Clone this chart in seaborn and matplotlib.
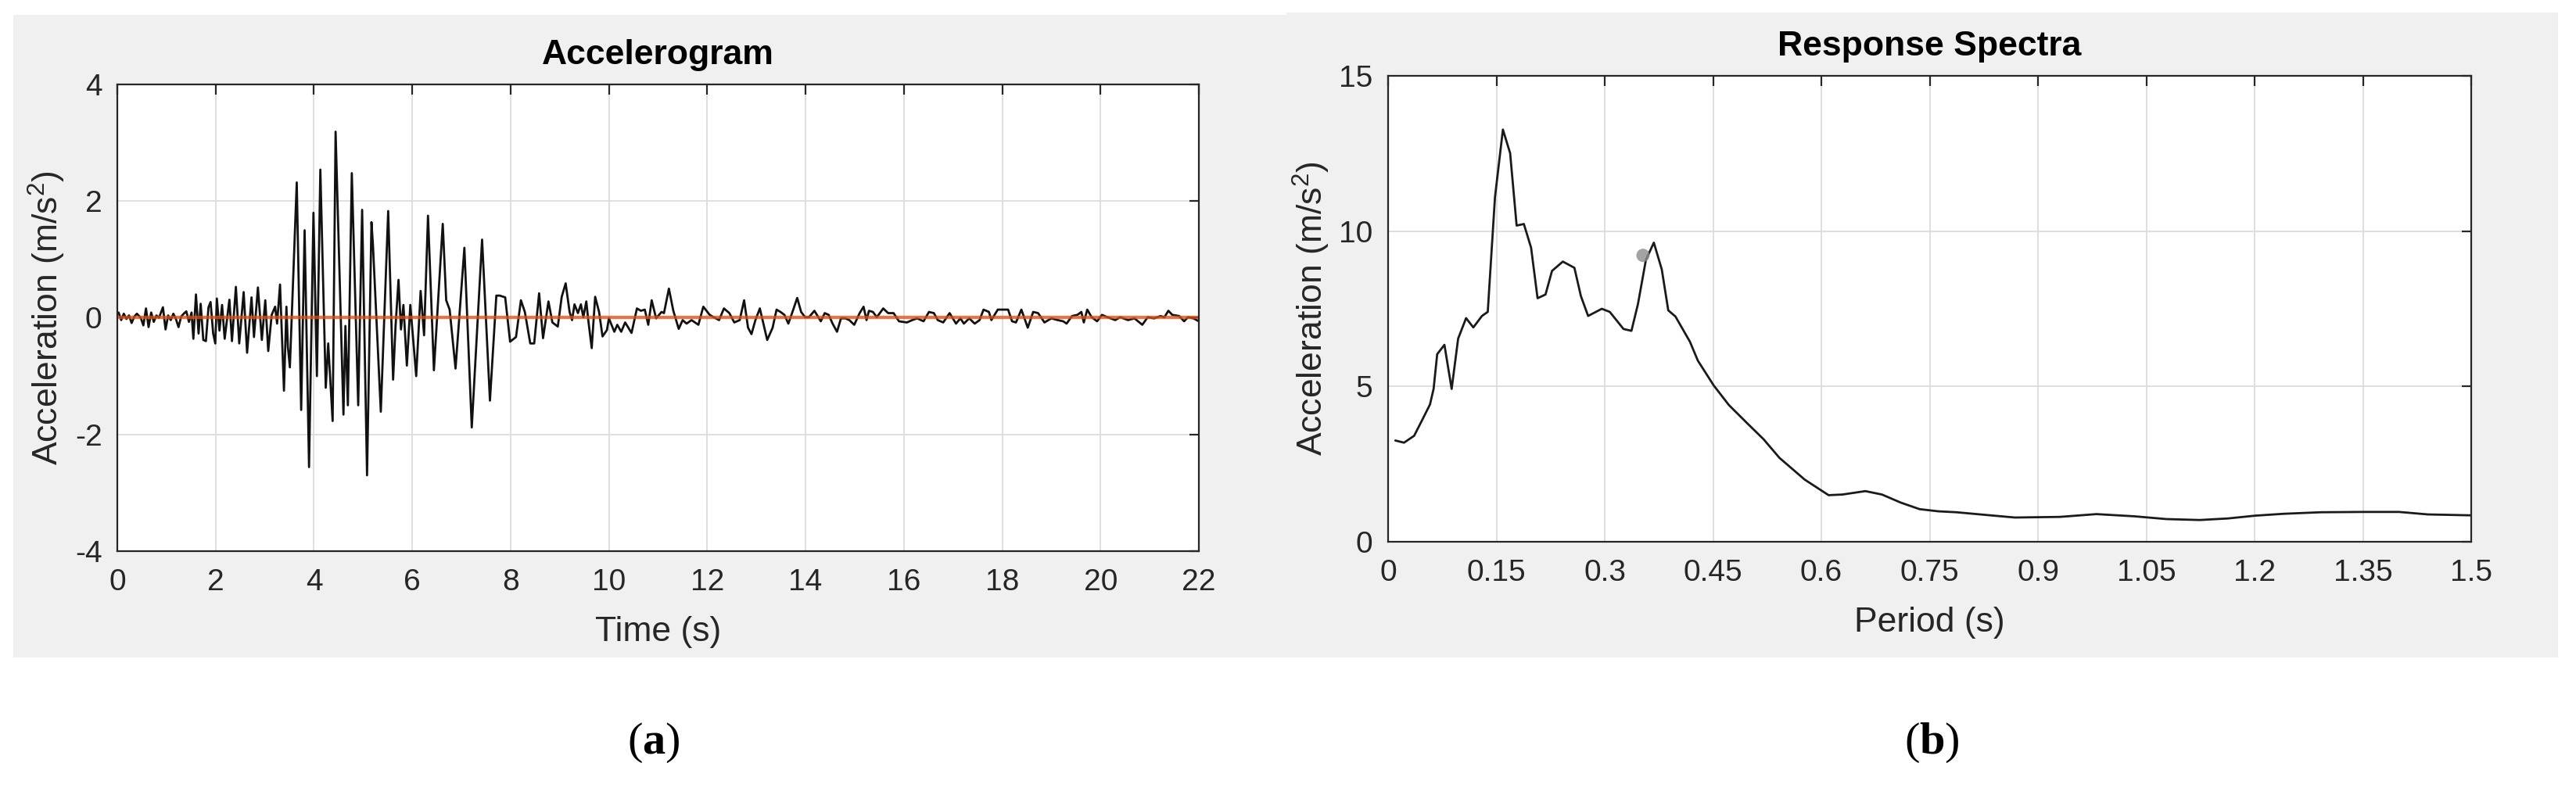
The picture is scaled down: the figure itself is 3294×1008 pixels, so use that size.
import matplotlib
matplotlib.use('Agg')
import matplotlib.pyplot as plt
import seaborn as sns
from matplotlib.patches import Rectangle

# accelerogram (turning points)
time_s = [0.026, 0.079, 0.132, 0.185, 0.238, 0.291, 0.345, 0.398, 0.477, 0.530,
          0.583, 0.636, 0.689, 0.742, 0.795, 0.848, 0.928, 0.981, 1.034, 1.087,
          1.14, 1.192, 1.245, 1.298, 1.351, 1.404, 1.457, 1.51, 1.547, 1.6,
          1.653, 1.696, 1.749, 1.802, 1.855, 1.897, 1.95, 1.993, 2.025, 2.078,
          2.131, 2.184, 2.28, 2.332, 2.412, 2.48, 2.57, 2.64, 2.73, 2.78,
          2.86, 2.94, 3.01, 3.07, 3.14, 3.21, 3.25, 3.31, 3.39, 3.44,
          3.47, 3.51, 3.65, 3.74, 3.81, 3.90, 3.99, 4.06, 4.13, 4.24,
          4.29, 4.38, 4.44, 4.60, 4.64, 4.69, 4.77, 4.90, 4.98, 5.08,
          5.17, 5.20, 5.36, 5.51, 5.61, 5.66, 5.72, 5.77, 5.82, 5.89,
          5.96, 6.08, 6.17, 6.24, 6.32, 6.44, 6.62, 6.69, 6.76, 6.88,
          7.06, 7.21, 7.42, 7.58, 7.71, 7.78, 7.89, 7.99, 8.11, 8.21,
          8.29, 8.40, 8.48, 8.58, 8.66, 8.77, 8.85, 8.96, 9.04, 9.12,
          9.20, 9.25, 9.30, 9.37, 9.43, 9.48, 9.54, 9.58, 9.65, 9.72,
          9.80, 9.87, 9.96, 10.0, 10.11, 10.17, 10.25, 10.33, 10.46, 10.57,
          10.65, 10.73, 10.80, 10.87, 10.96, 11.02, 11.07, 11.12, 11.22, 11.31,
          11.42, 11.50, 11.58, 11.68, 11.82, 11.92, 12.05, 12.13, 12.24, 12.34,
          12.45, 12.55, 12.66, 12.75, 12.83, 12.90, 12.98, 13.07, 13.22, 13.33,
          13.41, 13.49, 13.57, 13.65, 13.75, 13.83, 13.91, 13.99, 14.07, 14.18,
          14.31, 14.39, 14.47, 14.55, 14.64, 14.72, 14.81, 14.89, 14.99, 15.10,
          15.18, 15.24, 15.29, 15.37, 15.45, 15.58, 15.68, 15.79, 15.90, 16.06,
          16.17, 16.27, 16.40, 16.51, 16.61, 16.69, 16.80, 16.93, 17.06, 17.15,
          17.22, 17.33, 17.44, 17.54, 17.62, 17.73, 17.78, 17.91, 18.12, 18.20,
          18.28, 18.39, 18.52, 18.63, 18.73, 18.86, 19.00, 19.13, 19.24, 19.31,
          19.42, 19.53, 19.61, 19.66, 19.73, 19.82, 19.93, 20.03, 20.14, 20.30,
          20.40, 20.56, 20.69, 20.85, 20.96, 21.09, 21.22, 21.30, 21.38, 21.46,
          21.60, 21.70, 21.78, 21.89, 22.0]
accel = [0.09, -0.04, 0.07, -0.02, 0.04, -0.09, 0.02, 0.07, 0.0, -0.13,
         0.16, -0.16, 0.09, -0.07, 0.04, 0.0, 0.18, -0.2, 0.04, -0.04,
         0.07, -0.02, -0.16, 0.02, 0.07, 0.11, -0.07, 0.09, -0.36, 0.40,
         -0.27, 0.24, -0.38, -0.40, 0.18, 0.27, -0.27, -0.44, 0.33, -0.22,
         0.22, -0.36, 0.31, -0.40, 0.53, -0.44, 0.44, -0.60, 0.35, -0.33,
         0.52, -0.38, 0.30, -0.57, 0.05, 0.19, -0.10, 0.57, -1.25, 0.19,
         -0.50, -0.85, 2.32, -1.58, 1.50, -2.56, 1.80, -1.00, 2.54, -1.20,
         -0.44, -1.77, 3.19, -1.66, -0.14, -1.50, 2.48, -1.50, 1.85, -2.70,
         1.64, 1.25, -1.61, 1.83, -1.06, -0.14, 0.65, -0.20, 0.22, -0.82,
         0.22, -1.00, 0.46, -0.30, 1.75, -0.90, 1.61, 0.30, 0.14, -0.87,
         1.20, -1.88, 1.34, -1.42, 0.38, 0.38, 0.35, -0.41, -0.33, 0.30,
         0.10, -0.44, -0.44, 0.42, -0.35, 0.28, -0.08, -0.15, 0.36, 0.59,
         0.10, -0.04, 0.23, 0.08, 0.23, 0.01, 0.28, -0.04, -0.52, 0.36,
         0.10, -0.32, -0.21, -0.01, -0.24, -0.12, -0.24, -0.08, -0.26, 0.16,
         0.12, 0.14, -0.12, 0.30, -0.01, 0.05, 0.10, 0.08, 0.50, 0.12,
         -0.19, -0.04, -0.10, -0.04, -0.12, 0.19, 0.05, 0.01, -0.04, 0.16,
         0.08, -0.08, -0.04, 0.30, -0.17, -0.28, -0.04, 0.16, -0.38, -0.17,
         0.14, 0.10, 0.05, -0.10, 0.14, 0.34, 0.10, 0.01, 0.01, 0.12,
         -0.06, 0.08, 0.05, -0.10, -0.24, -0.01, -0.01, -0.04, -0.12, 0.08,
         0.19, -0.04, 0.12, 0.10, 0.01, 0.16, 0.08, 0.08, -0.06, -0.08,
         -0.04, -0.01, -0.06, 0.10, 0.08, -0.04, -0.08, 0.08, -0.10, -0.01,
         -0.10, -0.01, -0.10, -0.04, 0.14, 0.10, -0.04, 0.14, 0.14, -0.06,
         -0.08, 0.14, -0.17, 0.10, 0.08, -0.08, -0.01, -0.04, -0.06, -0.10,
         0.03, 0.05, 0.10, -0.08, 0.14, 0.01, -0.06, 0.05, 0.01, -0.04,
         0.01, -0.04, -0.01, -0.12, 0.01, -0.01, 0.03, 0.01, 0.12, 0.05,
         0.03, -0.06, 0.01, -0.01, -0.06]

# zero baseline (orange)
base_t = [0, 22]
base_a = [0, 0]

# response spectrum
period_s = [0.01, 0.022, 0.036, 0.047, 0.058, 0.063, 0.068, 0.078, 0.088, 0.097,
            0.108, 0.118, 0.13, 0.138, 0.148, 0.159, 0.169, 0.178, 0.188, 0.198,
            0.207, 0.218, 0.227, 0.242, 0.258, 0.267, 0.277, 0.296, 0.307, 0.326,
            0.337, 0.346, 0.357, 0.368, 0.379, 0.388, 0.398, 0.418, 0.429, 0.451,
            0.472, 0.498, 0.52, 0.542, 0.552, 0.577, 0.61, 0.629, 0.661, 0.684,
            0.71, 0.736, 0.762, 0.787, 0.82, 0.868, 0.93, 0.981, 1.033, 1.078,
            1.124, 1.163, 1.201, 1.24, 1.292, 1.35, 1.40, 1.44, 1.5]
spec_acc = [3.26, 3.19, 3.41, 3.91, 4.42, 4.92, 6.04, 6.34, 4.92, 6.54,
            7.2, 6.9, 7.27, 7.4, 11.09, 13.27, 12.51, 10.18, 10.23, 9.47,
            7.84, 7.96, 8.72, 9.02, 8.82, 7.91, 7.27, 7.50, 7.4, 6.85,
            6.79, 7.65, 9.07, 9.63, 8.77, 7.45, 7.25, 6.44, 5.83, 5.03,
            4.4, 3.8, 3.3, 2.7, 2.5, 2.0, 1.5, 1.52, 1.63, 1.52,
            1.26, 1.05, 0.98, 0.95, 0.88, 0.78, 0.8, 0.89, 0.82, 0.73,
            0.70, 0.75, 0.84, 0.9, 0.95, 0.96, 0.96, 0.88, 0.85]
marker_t = [0.353]
marker_a = [9.22]

acc_xticks = list(range(0, 23, 2))
acc_yticks = [-4, -2, 0, 2, 4]
spec_xticks = [0, 0.15, 0.3, 0.45, 0.6, 0.75, 0.9, 1.05, 1.2, 1.35, 1.5]
spec_xlabels = ['0', '0.15', '0.3', '0.45', '0.6', '0.75', '0.9', '1.05', '1.2', '1.35', '1.5']
spec_yticks = [0, 5, 10, 15]

sns.set_theme(style='white')
plt.rcParams['font.family'] = ['Liberation Sans', 'DejaVu Sans']
plt.rcParams['axes.unicode_minus'] = False
plt.rcParams['mathtext.fontset'] = 'custom'
plt.rcParams['mathtext.rm'] = 'Liberation Sans'
plt.rcParams['mathtext.it'] = 'Liberation Sans:italic'
plt.rcParams['mathtext.bf'] = 'Liberation Serif:bold'

TXT = '#262626'
GRAY = '#f0f0f0'


def style_axes(ax):
   ax.set_facecolor('white')
   for s in ax.spines.values():
      s.set_color(TXT)
      s.set_linewidth(1.6)
   ax.grid(True, color='#dcdcdc', linewidth=1.3)
   ax.set_axisbelow(True)
   ax.tick_params(axis='both', direction='in', top=True, right=True, length=9,
                  width=1.6, color=TXT, labelcolor=TXT, labelsize=28)
   ax.tick_params(axis='x', pad=16)
   ax.tick_params(axis='y', pad=14)
   ax.xaxis.label.set_va('center')
   ax.yaxis.label.set_va('center')


fig = plt.figure(figsize=(32.94, 10.08), dpi=100)
fig.add_artist(Rectangle((0.00516, 0.16567), 0.49423, 0.81548, transform=fig.transFigure,
                         facecolor=GRAY, edgecolor='none', zorder=0))
fig.add_artist(Rectangle((0.49939, 0.16567), 0.49363, 0.81845, transform=fig.transFigure,
                         facecolor=GRAY, edgecolor='none', zorder=0))

# (a) accelerogram
ax1 = fig.add_axes([0.04554, 0.30060, 0.41985, 0.59226])
sns.lineplot(x=time_s, y=accel, ax=ax1, color='#111111', linewidth=2.0,
             sort=False, estimator=None)
sns.lineplot(x=base_t, y=base_a, ax=ax1, color='#D95319', alpha=0.75, linewidth=3.2)
ax1.set_xlim(0, 22)
ax1.set_ylim(-4, 4)
ax1.set_xticks(acc_xticks)
ax1.set_yticks(acc_yticks)
ax1.set_xlabel('Time (s)', fontsize=32, color=TXT)
ax1.set_ylabel('Acceleration (m/s$^2$)', fontsize=32, color=TXT)
style_axes(ax1)
ax1.xaxis.set_label_coords(0.5, -0.174)
ax1.yaxis.set_label_coords(-0.0651, 0.5)

# (b) response spectrum
ax2 = fig.add_axes([0.53886, 0.31250, 0.42046, 0.59127])
sns.lineplot(x=period_s, y=spec_acc, ax=ax2, color='#1a1a1a', linewidth=2.0,
             sort=False, estimator=None)
sns.scatterplot(x=marker_t, y=marker_a, ax=ax2, color='#8c8c8c', alpha=0.8, s=150,
                edgecolor='none', zorder=3)
ax2.set_xlim(0, 1.5)
ax2.set_ylim(0, 15)
ax2.set_xticks(spec_xticks)
ax2.set_xticklabels(spec_xlabels)
ax2.set_yticks(spec_yticks)
ax2.set_xlabel('Period (s)', fontsize=32, color=TXT)
ax2.set_ylabel('Acceleration (m/s$^2$)', fontsize=32, color=TXT)
style_axes(ax2)
ax2.xaxis.set_label_coords(0.5, -0.173)
ax2.yaxis.set_label_coords(-0.0708, 0.5)

fig.text(0.2553, 0.9296, 'Accelerogram', ha='center', va='center', fontsize=32,
         fontweight='bold', color='black')
fig.text(0.7489, 0.9405, 'Response Spectra', ha='center', va='center', fontsize=32,
         fontweight='bold', color='black')

fig.text(0.2538, 0.0575, r'($\mathbf{a}$)', ha='center', va='center', fontsize=42,
         family='Liberation Serif', color='black')
fig.text(0.7499, 0.0575, r'($\mathbf{b}$)', ha='center', va='center', fontsize=42,
         family='Liberation Serif', color='black')

fig.savefig('out.png', dpi=100, facecolor='white')
